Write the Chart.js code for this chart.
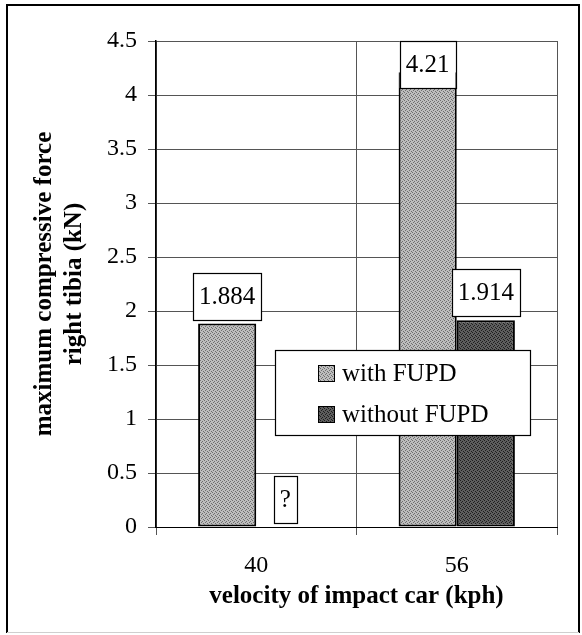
<!DOCTYPE html>
<html>
<head>
<meta charset="utf-8">
<script src="https://cdn.jsdelivr.net/npm/chart.js@4"></script>
<style>
  html, body { margin: 0; padding: 0; background: #fff; }
  canvas { display: block; }
</style>
</head>
<body>
<canvas id="grafico" width="582" height="635"></canvas>
<script>
// ========== DADOS ==========
const velocidades = ['40', '56'];
const comFUPD = [1.884, 4.21];
const semFUPD = [null, 1.914];   // sem valor medido em 40 kph -> "?"
const nomesSeries = ['with FUPD', 'without FUPD'];
const ticksY = [0, 0.5, 1, 1.5, 2, 2.5, 3, 3.5, 4, 4.5];

const FONTE = '"Liberation Serif", "Times New Roman", serif';

// textura pontilhada tipo impressao antiga
function padrao(base, ponto) {
  const c = document.createElement('canvas');
  c.width = 4; c.height = 4;
  const g = c.getContext('2d');
  g.fillStyle = base;
  g.fillRect(0, 0, 4, 4);
  g.fillStyle = ponto;
  g.fillRect(0, 0, 1, 1);
  g.fillRect(2, 1, 1, 1);
  g.fillRect(1, 2, 1, 1);
  g.fillRect(3, 3, 1, 1);
  return g.createPattern(c, 'repeat');
}

const corCom = padrao('#bdbdbd', '#6e6e6e');
const corSem = padrao('#5e5e5e', '#1e1e1e');

// legenda + caixinhas com os valores em cima das barras
const rotulos = {
  id: 'rotulos',
  afterDatasetsDraw(chart) {
    const ctx = chart.ctx;
    const area = chart.chartArea;
    const y = chart.scales.y;

    // legenda desenhada dentro da area do grafico
    ctx.save();
    ctx.fillStyle = '#fff';
    ctx.fillRect(275, 350, 255, 85);
    ctx.strokeStyle = '#000';
    ctx.lineWidth = 1.2;
    ctx.strokeRect(275.5, 350.5, 255, 85);
    ctx.font = '25px ' + FONTE;
    ctx.textBaseline = 'middle';
    ctx.textAlign = 'left';
    chart.data.datasets.forEach((ds, i) => {
      const cy = 373 + i * 41;
      ctx.fillStyle = ds.backgroundColor;
      ctx.fillRect(318, cy - 8, 17, 17);
      ctx.strokeStyle = '#000';
      ctx.lineWidth = 1;
      ctx.strokeRect(318.5, cy - 7.5, 16, 16);
      ctx.fillStyle = '#000';
      ctx.fillText(ds.label, 342, cy + 1);
    });

    // rotulos de valor
    ctx.font = '25px ' + FONTE;
    ctx.textAlign = 'center';
    chart.data.datasets.forEach((ds, i) => {
      const meta = chart.getDatasetMeta(i);
      ds.data.forEach((v, j) => {
        const el = meta.data[j];
        if (!el) return;
        const texto = v == null ? '?' : String(v);
        const cx = el.x;
        const topoBarra = y.getPixelForValue(v == null ? 0 : v);
        const w = ctx.measureText(texto).width + 12;
        const h = 47;
        let topo = topoBarra - 4 - h;
        if (topo < area.top) topo = area.top;
        ctx.fillStyle = '#fff';
        ctx.fillRect(cx - w / 2, topo, w, h);
        ctx.strokeStyle = '#000';
        ctx.lineWidth = 1.2;
        ctx.strokeRect(Math.round(cx - w / 2) + 0.5, Math.round(topo) + 0.5, Math.round(w), h);
        ctx.fillStyle = '#000';
        ctx.fillText(texto, cx, topo + h / 2 + 1);
      });
    });
    ctx.restore();
  },
  afterDraw(chart) {
    // moldura externa da figura
    const ctx = chart.ctx;
    ctx.save();
    ctx.strokeStyle = '#000';
    ctx.lineWidth = 2;
    ctx.beginPath();
    ctx.moveTo(7, 633);
    ctx.lineTo(7, 5);
    ctx.lineTo(579, 5);
    ctx.lineTo(579, 633);
    ctx.stroke();
    ctx.strokeStyle = '#cfcfcf';
    ctx.lineWidth = 1;
    ctx.beginPath();
    ctx.moveTo(7, 632.5);
    ctx.lineTo(579, 632.5);
    ctx.stroke();
    ctx.restore();
  }
};

new Chart(document.getElementById('grafico'), {
  type: 'bar',
  data: {
    labels: velocidades,
    datasets: [
      {
        label: nomesSeries[0],
        data: comFUPD,
        backgroundColor: corCom,
        borderColor: '#000',
        borderWidth: 2,
        borderSkipped: false
      },
      {
        label: nomesSeries[1],
        data: semFUPD,
        backgroundColor: corSem,
        borderColor: '#000',
        borderWidth: 2,
        borderSkipped: false
      }
    ]
  },
  options: {
    responsive: false,
    animation: false,
    events: [],
    layout: { padding: { top: 41, right: 25, left: 0, bottom: 0 } },
    datasets: { bar: { categoryPercentage: 0.58, barPercentage: 1 } },
    plugins: {
      legend: { display: false },
      tooltip: { enabled: false }
    },
    scales: {
      x: {
        afterFit(s) { s.height = 108; },
        grid: { color: '#555', lineWidth: 1, tickLength: 8, offset: true },
        border: { color: '#000', width: 1 },
        ticks: { color: '#000', padding: 16, font: { family: FONTE, size: 24 } },
        title: {
          display: true,
          text: 'velocity of impact car (kph)',
          color: '#000',
          font: { family: FONTE, size: 25, weight: 'bold' },
          padding: { top: 0, bottom: 23 }
        }
      },
      y: {
        min: 0,
        max: 4.5,
        afterFit(s) { s.width = 156; },
        afterBuildTicks(s) { s.ticks = ticksY.map(v => ({ value: v })); },
        grid: { color: '#555', lineWidth: 1, tickLength: 8 },
        border: { color: '#000', width: 1.5 },
        ticks: {
          color: '#000',
          padding: 11,
          font: { family: FONTE, size: 24 },
          callback: v => String(v)
        },
        title: {
          display: true,
          text: ['maximum compressive force', 'right tibia (kN)'],
          color: '#000',
          font: { family: FONTE, size: 25, weight: 'bold' },
          padding: { top: 30, bottom: 0 }
        }
      }
    }
  },
  plugins: [rotulos]
});
</script>
</body>
</html>
